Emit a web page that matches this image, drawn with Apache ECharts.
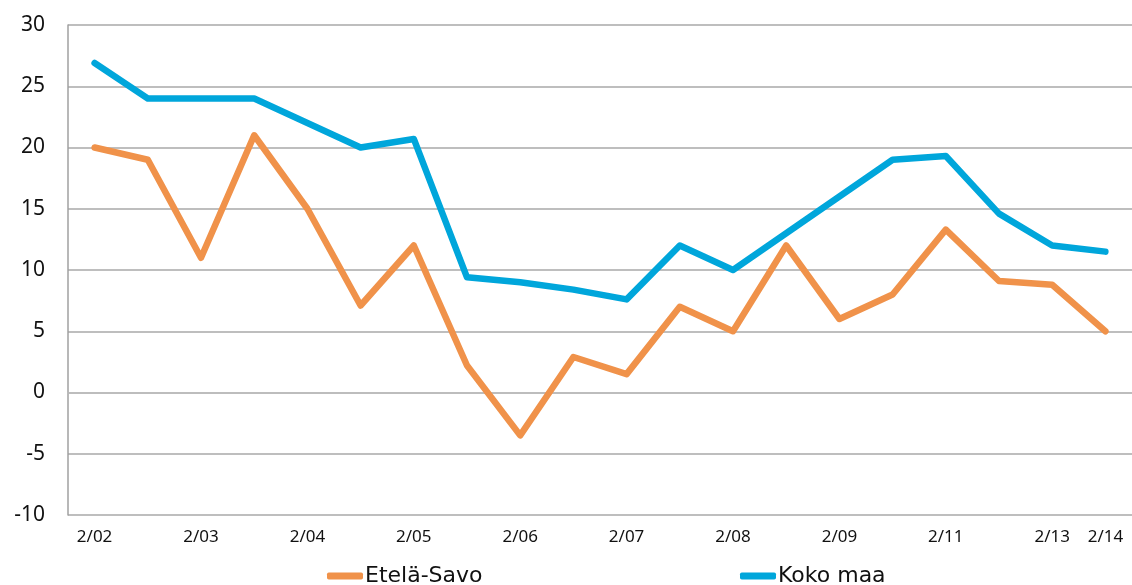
<!DOCTYPE html>
<html>
<head>
<meta charset="utf-8">
<script src="https://cdn.jsdelivr.net/npm/echarts@6/dist/echarts.min.js"></script>
<style>html,body{margin:0;padding:0;background:#fff}#c{width:1132px;height:585px}</style>
</head>
<body>
<div id="c"></div>
<script>
const categories = ['2/02','','2/03','','2/04','','2/05','','2/06','','2/07','','2/08','','2/09','','2/11','','2/13','2/14'];
const eteläSavo = [20, 19, 11, 21, 15, 7.1, 12, 2.2, -3.5, 2.9, 1.5, 7, 5, 12, 6, 8, 13.3, 9.1, 8.8, 5];
const kokoMaa = [26.9, 24, 24, 24, 22, 20, 20.7, 9.4, 9, 8.4, 7.6, 12, 10, 13, 16, 19, 19.3, 14.6, 12, 11.5];
const yTicks = {min: -10, max: 30, interval: 5};

const chart = echarts.init(document.getElementById('c'));
chart.setOption({
  animation: false,
  grid: {left: 68, right: -5, top: 25, bottom: 70, containLabel: false},
  xAxis: {
    type: 'category', data: categories, boundaryGap: true,
    axisLine: {lineStyle: {color: '#bdbdbd', width: 1.5}},
    axisTick: {show: false},
    axisLabel: {interval: 0, margin: 14, color: '#111', fontSize: 17, fontFamily: 'Noto Sans'}
  },
  yAxis: {
    type: 'value', min: yTicks.min, max: yTicks.max, interval: yTicks.interval,
    axisLine: {show: true, lineStyle: {color: '#a0a0a0', width: 1.5}},
    axisTick: {show: false},
    splitLine: {lineStyle: {color: '#a8a8a8', width: 1.5}},
    axisLabel: {margin: 23, color: '#111', fontSize: 21, fontFamily: 'Noto Sans'}
  },
  legend: [
    {data: ['Etelä-Savo'], left: 322, top: 560, itemWidth: 36, itemHeight: 7, itemGap: 0,
     icon: 'roundRect', textStyle: {fontSize: 22, color: '#111', fontFamily: 'DejaVu Sans', padding: [0,0,0,-3]}},
    {data: ['Koko maa'], left: 735, top: 560, itemWidth: 36, itemHeight: 7, itemGap: 0,
     icon: 'roundRect', textStyle: {fontSize: 22, color: '#111', fontFamily: 'DejaVu Sans', padding: [0,0,0,-3]}}
  ],
  series: [
    {name: 'Etelä-Savo', type: 'line', data: eteläSavo, symbol: 'none', color: '#F0924A',
     lineStyle: {width: 6.5, color: '#F0924A', cap: 'round', join: 'round'}},
    {name: 'Koko maa', type: 'line', data: kokoMaa, symbol: 'none', color: '#00A6DB',
     lineStyle: {width: 6.5, color: '#00A6DB', cap: 'round', join: 'round'}}
  ]
});
</script>
</body>
</html>
